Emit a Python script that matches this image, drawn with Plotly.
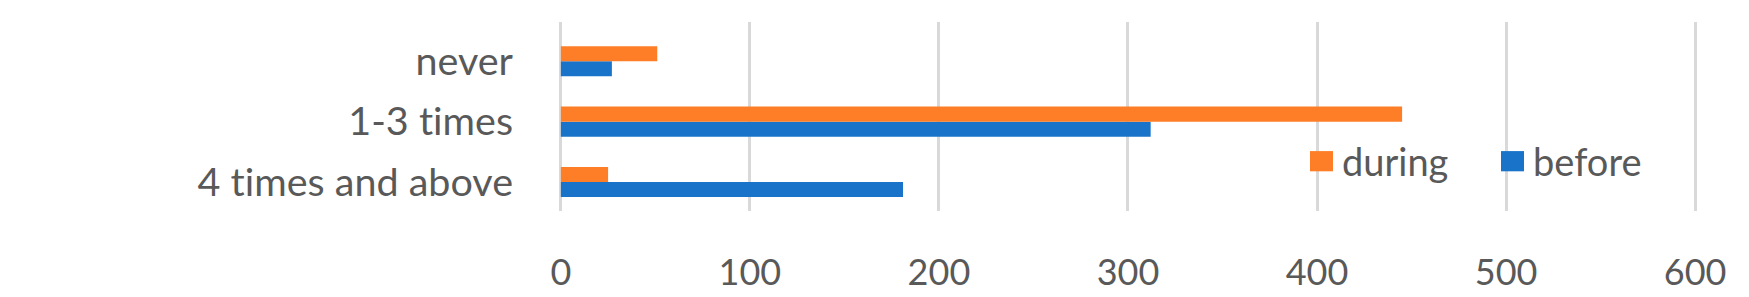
import plotly.graph_objects as go

# data
categories = ["4 times and above", "1-3 times", "never"]
before = [181, 312, 27]
during = [25, 445, 51]
x_ticks = [0, 100, 200, 300, 400, 500, 600]

ORANGE = "#fd7e27"
BLUE = "#1873c9"
TEXT = "#595959"
FONT = "Lato"

fig = go.Figure()

# horizontal grouped bars: first trace sits lowest in each group
fig.add_trace(go.Bar(y=categories, x=before, name="before", orientation="h",
                     marker=dict(color=BLUE, line=dict(width=0))))
fig.add_trace(go.Bar(y=categories, x=during, name="during", orientation="h",
                     marker=dict(color=ORANGE, line=dict(width=0))))

fig.update_layout(
    width=1749,
    height=297,
    margin=dict(l=550, r=60, t=14, b=78),
    plot_bgcolor="white",
    paper_bgcolor="white",
    barmode="group",
    bargap=0.5,
    bargroupgap=0,
    showlegend=False,
    font=dict(family=FONT, color=TEXT, size=38),
)

fig.update_xaxes(
    range=[-1.5, 601],
    tickvals=x_ticks,
    showgrid=True,
    gridcolor="#d9d9d9",
    gridwidth=2.5,
    zeroline=False,
    showline=False,
    ticklabelstandoff=37,
    tickfont=dict(size=36, color=TEXT, family=FONT),
)
# zero-width non-joiner keeps Lato from fusing "ti" into a ligature
fig.update_yaxes(
    type="category",
    categoryorder="array",
    categoryarray=categories,
    tickvals=categories,
    ticktext=[c.replace("ti", "t\u200ci") for c in categories],
    range=[-0.48, 2.65],
    showgrid=False,
    zeroline=False,
    showline=False,
    ticklabelstandoff=44,
    tickfont=dict(size=39.5, color=TEXT, family=FONT),
)

# legend drawn by hand so the swatches match the reference size
plot_w = 1749 - 550 - 60
legend_items = [("during", ORANGE, 1302), ("before", BLUE, 1493)]
for label, color, xpix in legend_items:
    px0 = (xpix - 550) / plot_w
    fig.add_shape(type="rect", xref="paper", yref="paper",
                  x0=px0, x1=px0 + 23 / plot_w, y0=0.21, y1=0.317,
                  fillcolor=color, line=dict(width=0))
    fig.add_annotation(text=label, xref="paper", yref="paper",
                       x=px0 + 30 / plot_w, y=0.263, xanchor="left", yanchor="middle",
                       showarrow=False, font=dict(size=38, color=TEXT, family=FONT))

fig.write_html("out.html")
